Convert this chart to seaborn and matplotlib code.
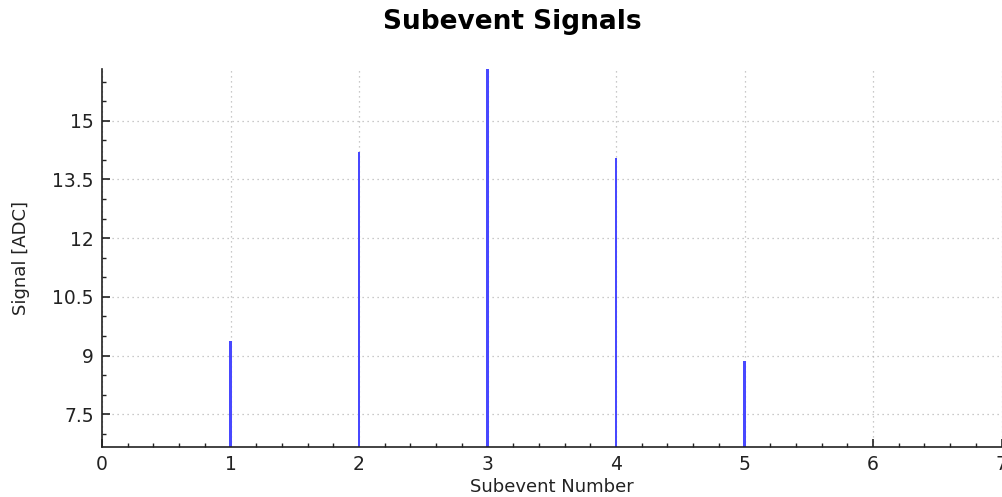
import matplotlib
matplotlib.use("Agg")
import matplotlib.pyplot as plt
from matplotlib.ticker import MultipleLocator
import seaborn as sns
import pandas as pd

subevent = [1, 2, 3, 4, 5]
signal = [9.38, 14.21, 16.33, 14.04, 8.87]

title = "Subevent Signals"
xlabel = "Subevent Number"
ylabel = "Signal [ADC]"

sns.set_theme(style="white")
plt.rcParams['font.family'] = ['DejaVu Sans']

df = pd.DataFrame({"x": subevent, "y": signal})

fig = plt.figure(figsize=(10.02, 4.97), dpi=100)
ax = fig.add_axes([102/1002, 1 - 446.7/497, (1001.5-102)/1002, (446.7-68.7)/497])

sns.barplot(data=df, x="x", y="y", native_scale=True, width=0.02,
            color="#4848ff", saturation=1, linewidth=0, ax=ax)

ax.set_xlim(0, 7)
ax.set_ylim(6.67, 16.33)
ax.xaxis.set_major_locator(MultipleLocator(1))
ax.xaxis.set_minor_locator(MultipleLocator(0.2))
ax.yaxis.set_major_locator(MultipleLocator(1.5))
ax.yaxis.set_minor_locator(MultipleLocator(0.5))
ax.yaxis.set_major_formatter(matplotlib.ticker.FuncFormatter(lambda v, p: f"{v:g}"))

for s in ["top", "right"]:
    ax.spines[s].set_visible(False)
for s in ["left", "bottom"]:
    ax.spines[s].set_color("#222222")
    ax.spines[s].set_linewidth(1.2)

ax.tick_params(which="major", direction="in", length=6, width=1.2, color="#222222",
               labelsize=13.5, labelcolor="#222222", pad=6)
ax.tick_params(which="minor", direction="in", length=3, width=1.0, color="#222222")
ax.tick_params(axis="x", which="both", bottom=True)
ax.tick_params(axis="y", which="both", left=True)

ax.grid(True, which="major", linestyle=(0, (1, 3)), color="#b8b8b8", linewidth=0.9)
ax.set_axisbelow(True)

ax.set_xlabel(xlabel, fontsize=13, color="#222222")
ax.set_ylabel(ylabel, fontsize=13, color="#222222")
ax.xaxis.set_label_coords(0.5, -(478 - 446.7) / 378)
ax.yaxis.set_label_coords(-(102 - 30) / 899.5, 0.5)

fig.text(512/1002, 1 - 22/497, title, ha="center", va="center",
         fontsize=19, fontweight="bold", color="black")

fig.savefig("out.png", dpi=100)
